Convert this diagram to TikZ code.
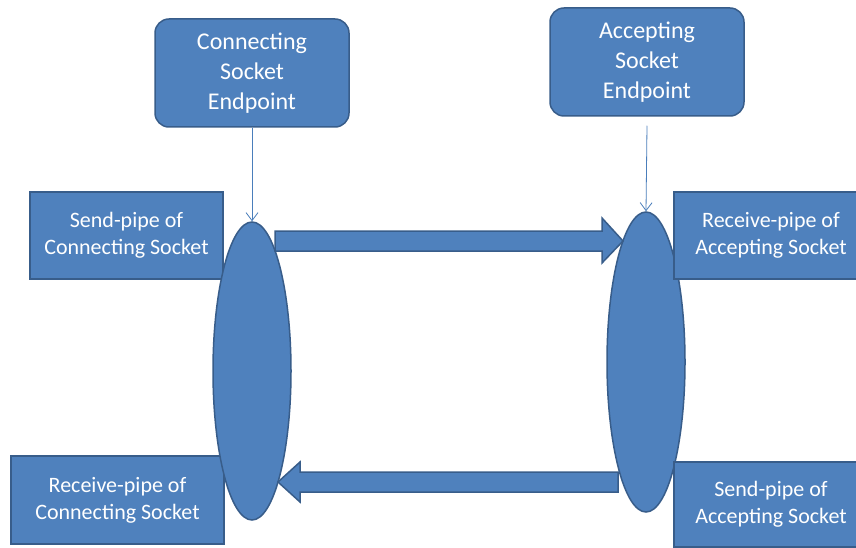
\documentclass[tikz,border=0pt]{standalone}
\usepackage{fontspec}
\setmainfont{Carlito}
\usetikzlibrary{shapes.geometric,arrows.meta,calc}
\definecolor{boxfill}{HTML}{4F81BD}
\definecolor{boxline}{HTML}{385D8A}
\definecolor{thinline}{HTML}{4A7EBB}
\begin{document}
\begin{tikzpicture}[x=1pt,y=-1pt,
  endpoint/.style={draw=boxline, fill=boxfill, line width=1.5pt, rounded corners=14pt, text=white, align=center, font=\fontsize{24}{30}\selectfont, minimum width=194pt, minimum height=108pt, inner sep=0pt},
  pipe/.style={draw=boxline, fill=boxfill, line width=1.5pt, text=white, align=center, font=\fontsize{22}{27}\selectfont, inner sep=0pt},
  sock/.style={ellipse, draw=boxline, fill=boxfill, line width=1.5pt, minimum width=78pt, minimum height=298pt, inner sep=0pt},
  blockarrow/.style={draw=boxline, fill=boxfill, line width=1.5pt, line join=miter},
  thinarrow/.style={draw=thinline, line width=0.8pt, -{Straight Barb[length=8pt,width=12pt]}}
]
\useasboundingbox (0,0) rectangle (856,548);
\fill[white] (0,0) rectangle (856,548);

\node[pipe, minimum width=193pt, minimum height=87pt] (cs) at (126.5,235.5) {Send-pipe of\\Connecting Socket};
\node[pipe, minimum width=213pt, minimum height=88pt] (cr) at (117.5,500) {Receive-pipe of\\Connecting Socket};

\node[sock] (le) at (252,371) {};
\node[sock, minimum height=300pt] (re) at (646,362) {};

\node[pipe, minimum width=194pt, minimum height=87pt] (ar) at (771,235.5) {Receive-pipe of\\Accepting Socket};
\node[pipe, minimum width=194pt, minimum height=85pt] (as) at (771,504.5) {Send-pipe of\\Accepting Socket};

\node[endpoint] (ce) at (252,73) {Connecting\\Socket\\Endpoint};
\node[endpoint] (ae) at (647,62) {Accepting\\Socket\\Endpoint};

\draw[thinarrow] (ce.south) -- (le.north);
\draw[thinarrow] ($(ae.south)+(0,9)$) -- (re.north);

\draw[blockarrow] (275,231) -- (602,231) -- (602,218) -- (623,241) -- (602,263) -- (602,251) -- (275,251) -- cycle;
\draw[blockarrow] (618,472) -- (300,472) -- (300,462) -- (278,482) -- (300,502) -- (300,492) -- (618,492) -- cycle;
\end{tikzpicture}
\end{document}
